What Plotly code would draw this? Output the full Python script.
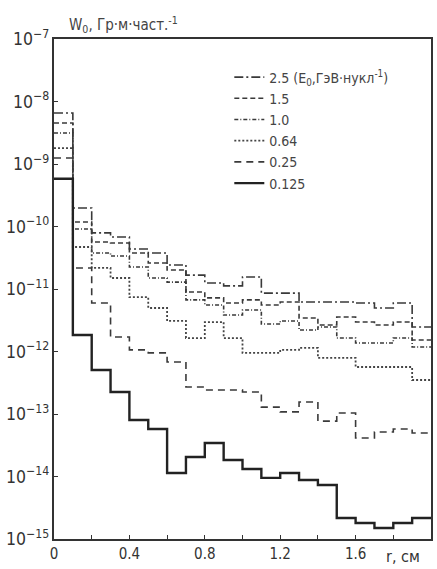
import plotly.graph_objects as go

# radial bins (cm), 0.1 cm wide
bin_edges = [0.0, 0.1, 0.2, 0.3, 0.4, 0.5, 0.6, 0.7, 0.8, 0.9, 1.0,
             1.1, 1.2, 1.3, 1.4, 1.5, 1.6, 1.7, 1.8, 1.9, 2.0]

# dose per particle W0 (Gy·m·particle^-1) per bin
w_2_5 = [6.55e-9, 1.98e-10, 7.9e-11, 6.8e-11, 4.37e-11, 3.77e-11, 2.42e-11, 1.67e-11,
         1.25e-11, 1.12e-11, 1.56e-11, 8.6e-12, 8.6e-12, 6.2e-12, 6.2e-12, 6.2e-12,
         5.97e-12, 4.97e-12, 5.97e-12, 2.47e-12]
w_1_5 = [4.53e-9, 1.18e-10, 5.65e-11, 5.45e-11, 3.77e-11, 2.61e-11, 2.01e-11, 8.95e-12,
         7.2e-12, 5.97e-12, 6.7e-12, 5.55e-12, 6.2e-12, 3.44e-12, 2.65e-12, 3.56e-12,
         2.96e-12, 2.65e-12, 2.96e-12, 1.53e-12]
w_1_0 = [3.13e-9, 9.1e-11, 3.77e-11, 3.37e-11, 2.25e-11, 1.50e-11, 1.29e-11, 6.7e-12,
         5.55e-12, 3.84e-12, 4.61e-12, 2.75e-12, 3.08e-12, 2.21e-12, 2.47e-12, 1.64e-12,
         1.37e-12, 1.37e-12, 1.64e-12, 1.18e-12]
w_0_64 = [1.80e-9, 4.70e-11, 2.17e-11, 1.50e-11, 7.4e-12, 4.97e-12, 3.08e-12, 1.64e-12,
          2.96e-12, 1.64e-12, 9.5e-13, 9.5e-13, 1.06e-12, 1.14e-12, 7.9e-13, 7.9e-13,
          5.65e-13, 5.65e-13, 5.65e-13, 3.50e-13]
w_0_25 = [1.25e-9, 2.17e-11, 5.97e-12, 1.71e-12, 1.06e-12, 9.5e-13, 6.8e-13, 2.70e-13,
          2.42e-13, 2.42e-13, 2.25e-13, 1.29e-13, 1.08e-13, 1.56e-13, 7.7e-14, 1.04e-13,
          4.13e-14, 5.15e-14, 5.75e-14, 4.97e-14]
w_0_125 = [5.8e-10, 1.84e-12, 5.06e-13, 2.25e-13, 8.0e-14, 5.75e-14, 1.14e-14, 2.05e-14,
           3.44e-14, 1.84e-14, 1.32e-14, 9.5e-15, 1.14e-14, 8.8e-15, 7.3e-15, 2.17e-15,
           1.80e-15, 1.50e-15, 1.80e-15, 2.17e-15]

legend_names = ["2.5 (E<sub>0</sub>,ГэВ·нукл<sup>-1</sup>)", "1.5", "1.0", "0.64", "0.25", "0.125"]
series = [w_2_5, w_1_5, w_1_0, w_0_64, w_0_25, w_0_125]

x_tickvals = [0.0, 0.2, 0.4, 0.6, 0.8, 1.0, 1.2, 1.4, 1.6, 1.8, 2.0]
x_ticktext = ["0", "", "0.4", "", "0.8", "", "1.2", "", "1.6", "", ""]

dashes = ["9px,3px,2px,3px", "5px,3px", "4px,2px,1px,2px", "2px,2px", "7px,5px", "solid"]
widths = [1.6, 1.6, 1.6, 1.8, 1.6, 2.4]
colors = ["#3a3a3a", "#3a3a3a", "#3a3a3a", "#444444", "#3a3a3a", "#222222"]

FONT = "DejaVu Sans Condensed, Liberation Sans Narrow, Arial Narrow, sans-serif"

fig = go.Figure()
for name, vals, d, w, c in zip(legend_names, series, dashes, widths, colors):
    fig.add_trace(go.Scatter(
        x=bin_edges, y=vals + [vals[-1]], name=name, mode="lines",
        line=dict(shape="hv", dash=d, width=w, color=c),
    ))

fig.update_layout(
    width=437, height=569,
    margin=dict(l=54, r=4, t=39, b=30),
    paper_bgcolor="white", plot_bgcolor="white",
    font=dict(family=FONT, size=15, color="#333333"),
    showlegend=True,
    legend=dict(x=0.465, y=0.955, xanchor="left", yanchor="top",
                bgcolor="rgba(0,0,0,0)", font=dict(size=14, color="#444444"),
                tracegroupgap=0, itemwidth=30),
    annotations=[
        dict(text="W<sub>0</sub>, Гр·м·част.<sup>-1</sup>", xref="paper", yref="paper",
             x=0.035, y=1.005, xanchor="left", yanchor="bottom", showarrow=False,
             font=dict(size=15, color="#444444")),
        dict(text="r, см", xref="x", yref="paper", x=1.85, y=-0.012,
             xanchor="center", yanchor="top", showarrow=False,
             font=dict(size=16, color="#333333")),
    ],
)
fig.update_xaxes(
    range=[0, 2.0], tickvals=x_tickvals, ticktext=x_ticktext,
    ticks="inside", ticklen=4, tickcolor="#333", showline=True, mirror=True,
    linecolor="#333", linewidth=2, showgrid=False, zeroline=False,
    tickfont=dict(size=15),
)
fig.update_yaxes(
    type="log", range=[-15, -7], dtick=1, exponentformat="power", showexponent="all",
    ticks="inside", ticklen=4, tickcolor="#333", showline=True, mirror=True,
    linecolor="#333", linewidth=2, showgrid=False, zeroline=False,
    tickfont=dict(size=14),
)

fig.write_html("out.html")
